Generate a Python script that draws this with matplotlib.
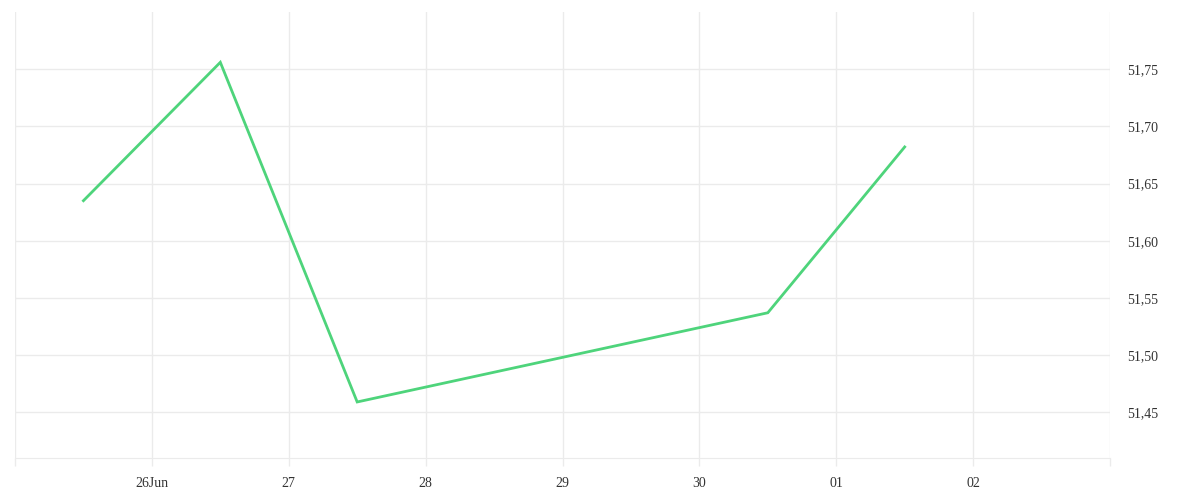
import matplotlib
matplotlib.use("Agg")
import matplotlib.pyplot as plt
import matplotlib.dates as mdates
from matplotlib.ticker import FuncFormatter
import numpy as np
import pandas as pd

# data (points sit at midday)
dates = pd.to_datetime([
    "2023-06-25 12:00", "2023-06-26 12:00", "2023-06-27 12:00",
    "2023-06-30 12:00", "2023-07-01 12:00",
])
values = [51.635, 51.756, 51.459, 51.537, 51.682]

tick_dates = pd.to_datetime([
    "2023-06-25", "2023-06-26", "2023-06-27", "2023-06-28", "2023-06-29",
    "2023-06-30", "2023-07-01", "2023-07-02", "2023-07-03",
])
tick_labels = ["", "26Jun", "27", "28", "29", "30", "01", "02", ""]
y_ticks = [51.45, 51.50, 51.55, 51.60, 51.65, 51.70, 51.75]

grid_c = "#ebebeb"
text_c = "#333333"

plt.rcParams["font.family"] = ["Liberation Serif", "DejaVu Serif"]

fig = plt.figure(figsize=(12, 5), dpi=100)
ax = fig.add_axes([15 / 1200, 42 / 500, 1095 / 1200, 446 / 500])

ax.plot(dates, values, color="#4ed47b", lw=2, solid_joinstyle="miter")

ax.set_xlim(tick_dates[0], tick_dates[-1])
ax.set_ylim(51.41, 51.80)

ax.set_xticks(tick_dates)
ax.set_xticklabels(tick_labels)
ax.set_yticks(y_ticks)
ax.yaxis.set_major_formatter(FuncFormatter(lambda v, p: f"{v:.2f}".replace(".", ",")))
ax.yaxis.tick_right()

ax.grid(True, color=grid_c, lw=1)
ax.set_axisbelow(True)
ax.tick_params(axis="x", length=6, width=1, color=grid_c, pad=8, labelsize=10, labelcolor=text_c)
ax.tick_params(axis="y", length=0, pad=12, labelsize=10, labelcolor=text_c)

for side in ["top", "left", "right"]:
    ax.spines[side].set_visible(False)
ax.spines["bottom"].set_color(grid_c)

fig.savefig("out.png", dpi=100, facecolor="white")
